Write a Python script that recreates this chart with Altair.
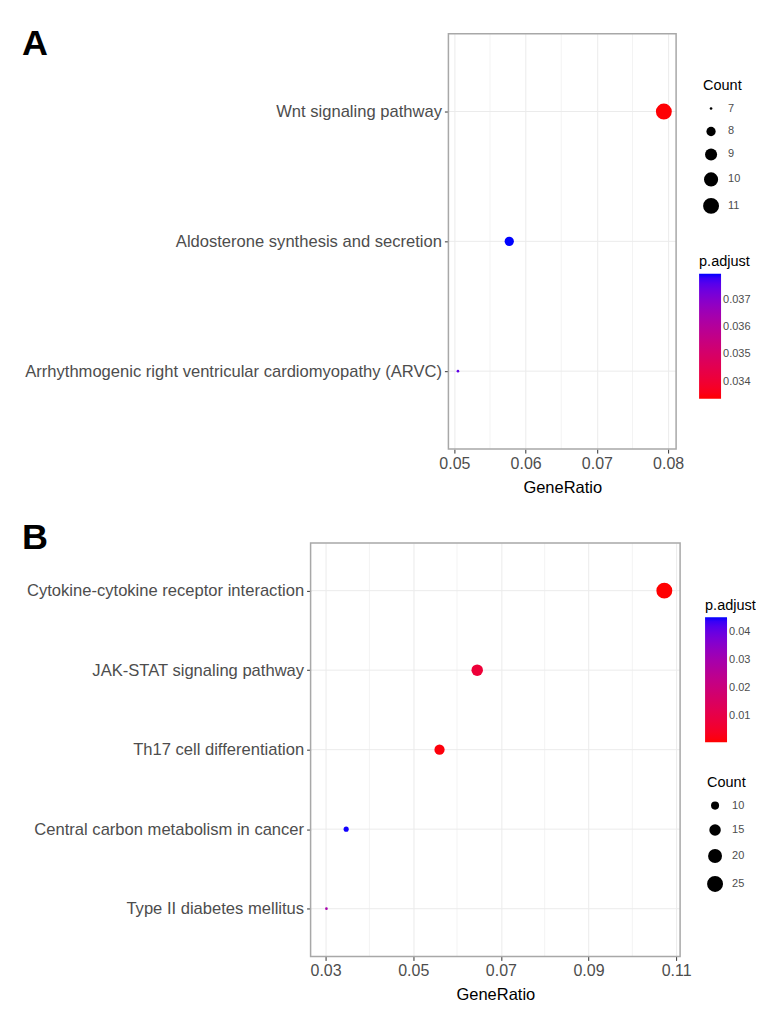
import altair as alt
import pandas as pd

# ---------------- Panel A data ----------------
a_terms = [
    "Wnt signaling pathway",
    "Aldosterone synthesis and secretion",
    "Arrhythmogenic right ventricular cardiomyopathy (ARVC)",
]
a_ratio = [0.0794, 0.0577, 0.0505]
a_count = [11, 8, 7]
a_padj = [0.0334, 0.0380, 0.0375]
a_x_ticks = [0.05, 0.06, 0.07, 0.08]
a_x_minor = [0.055, 0.065, 0.075]
a_count_breaks = [7, 8, 9, 10, 11]
a_padj_breaks = [0.034, 0.035, 0.036, 0.037]

# ---------------- Panel B data ----------------
b_terms = [
    "Cytokine-cytokine receptor interaction",
    "JAK-STAT signaling pathway",
    "Th17 cell differentiation",
    "Central carbon metabolism in cancer",
    "Type II diabetes mellitus",
]
b_ratio = [0.1073, 0.0646, 0.0560, 0.0347, 0.0302]
b_count = [25, 15, 13, 8, 7]
b_padj = [0.0008, 0.0075, 0.0015, 0.0452, 0.0300]
b_x_ticks = [0.03, 0.05, 0.07, 0.09, 0.11]
b_x_minor = [0.04, 0.06, 0.08, 0.10]
b_count_breaks = [10, 15, 20, 25]
b_padj_breaks = [0.01, 0.02, 0.03, 0.04]

FONT = "Liberation Sans"
TXT = "#4d4d4d"
GRID = "#ebebeb"
FRAME = "#a8a8a8"

IND = dict(x="independent", y="independent", color="independent",
           size="independent")


def panel(letter, terms, ratio, count, padj, x_dom, x_major, x_minor,
          size_dom, size_rng, size_vals, padj_dom, padj_vals, padj_fmt,
          w, x0, h, letter_xy, count_xy, padj_xy, row_pad):
    """w: full view width; the data frame occupies [x0, w] of it."""
    df = pd.DataFrame({"term": terms, "GeneRatio": ratio,
                       "Count": count, "padj": padj})
    xscale = alt.Scale(domain=x_dom, nice=False, zero=False, range=[x0, w])
    yscale = alt.Scale(type="point", padding=0.6)
    xaxis = alt.Axis(values=x_major, format=".2f", title="GeneRatio",
                     grid=True, gridColor=GRID, domain=False,
                     tickSize=4, tickColor="#333333", labelColor=TXT,
                     labelFontSize=16, labelPadding=2, titleFontSize=16.5,
                     titleFontWeight="normal", titleColor="black",
                     titlePadding=8, titleX=(x0 + w) / 2,
                     titleAlign="center")
    yaxis = alt.Axis(title=None, grid=False, domain=False, tickSize=4,
                     tickColor="#333333", labelColor=TXT, labelFontSize=16.6,
                     labelPadding=3, labelLimit=600, offset=-x0)

    minor = alt.Chart(pd.DataFrame({"g": x_minor})).mark_rule(
        color="#f3f3f3", strokeWidth=1
    ).encode(x=alt.X("g:Q", scale=xscale, axis=xaxis, title="GeneRatio"))

    ygrid = alt.Chart(df).mark_rule(color=GRID, strokeWidth=1).encode(
        y=alt.Y("term:N", sort=terms, scale=yscale, axis=yaxis),
        x=alt.datum(x_dom[0], scale=xscale),
        x2=alt.datum(x_dom[1]),
    )

    frame = alt.Chart(pd.DataFrame({"f": [0]})).mark_rect(
        fill=None, stroke=FRAME, strokeWidth=1.5
    ).encode(x=alt.datum(x_dom[0]), x2=alt.datum(x_dom[1]),
             y=alt.value(0), y2=alt.value(h))

    pts = alt.Chart(df).mark_circle(opacity=1).encode(
        x=alt.X("GeneRatio:Q", scale=xscale, axis=xaxis, title="GeneRatio"),
        y=alt.Y("term:N", sort=terms, scale=yscale, axis=yaxis),
        size=alt.Size("Count:Q",
                      scale=alt.Scale(domain=size_dom, range=size_rng),
                      legend=alt.Legend(title="Count", values=size_vals,
                                        orient="none",
                                        legendX=count_xy[0],
                                        legendY=count_xy[1],
                                        symbolFillColor="black",
                                        symbolStrokeColor="black",
                                        symbolStrokeWidth=0,
                                        symbolOpacity=1,
                                        symbolType="circle",
                                        titleFontSize=14.5,
                                        titleFontWeight="normal",
                                        titleColor="black",
                                        labelFontSize=11, labelColor=TXT,
                                        labelOffset=9, rowPadding=row_pad,
                                        titlePadding=10)),
        color=alt.Color("padj:Q",
                        scale=alt.Scale(domain=padj_dom,
                                        range=["#ff0000", "#0000ff"],
                                        interpolate="lab"),
                        legend=alt.Legend(title="p.adjust", values=padj_vals,
                                          format=padj_fmt, orient="none",
                                          legendX=padj_xy[0],
                                          legendY=padj_xy[1],
                                          direction="vertical",
                                          gradientLength=125,
                                          gradientThickness=22,
                                          gradientStrokeWidth=0,
                                          titleFontSize=14.5,
                                          titleFontWeight="normal",
                                          titleColor="black",
                                          labelFontSize=11, labelColor=TXT,
                                          titlePadding=4)),
    )

    lab = alt.Chart(pd.DataFrame({"lab": [letter]})).mark_text(
        fontSize=36, fontWeight="bold", align="left", baseline="top",
        font=FONT, color="black"
    ).encode(text="lab:N", x=alt.value(letter_xy[0]),
             y=alt.value(letter_xy[1]))

    return alt.layer(minor, ygrid, pts, frame, lab).properties(
        width=w, height=h)


chart_a = panel("A", a_terms, a_ratio, a_count, a_padj,
                [0.04916, 0.08112], a_x_ticks, a_x_minor,
                [7, 8, 9, 10, 11], [7, 86, 146, 200, 254], a_count_breaks,
                [0.03337, 0.03796], a_padj_breaks, ".3f",
                366, 138, 416, (-289, -7), (393, 45), (389, 222), 11)

chart_b = panel("B", b_terms, b_ratio, b_count, b_padj,
                [0.02658, 0.1109], b_x_ticks, b_x_minor,
                [7, 10, 15, 20, 25], [7, 65, 132, 195, 254], b_count_breaks,
                [0.0007, 0.0454], b_padj_breaks, ".2f",
                370, 0, 414, (-289, -22), (397, 233), (395, 56), 13)

chart = alt.vconcat(chart_a, chart_b, spacing=24).resolve_scale(
    **IND
).resolve_legend(color="independent", size="independent").properties(
    padding={"left": 14, "top": 17, "right": 0, "bottom": 0}
).configure(font=FONT).configure_view(stroke=None)

chart.save("out.html", embed_options={"renderer": "svg", "actions": False})
